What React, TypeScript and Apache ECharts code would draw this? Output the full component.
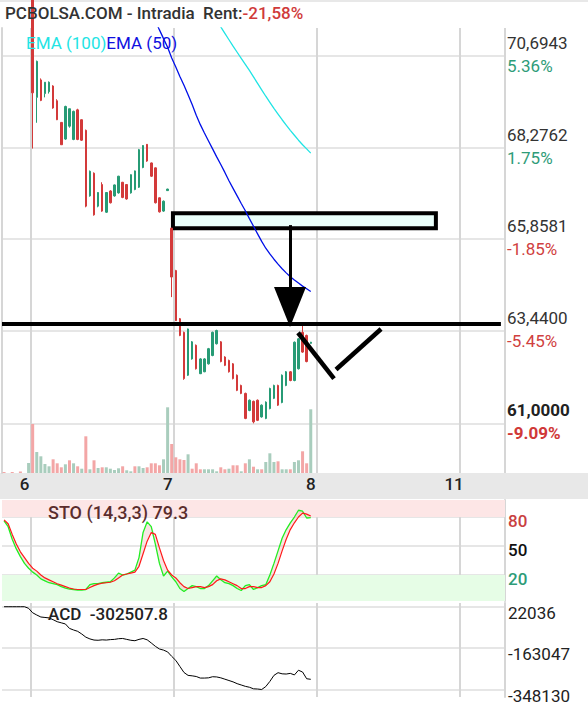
import React, { useEffect, useRef } from "react";
import * as echarts from "echarts";

const FONT = "Roboto";
const N_SLOTS = 123;
const dayTickIndex = [7, 42, 77, 112];
const dayTickLabels = ["6", "7", "8", "11"];

const priceTicks = [61, 63.44, 65.8581, 68.2762, 70.6943];
const priceTickText = ["61,0000", "63,4400", "65,8581", "68,2762", "70,6943"];
const priceTickPct = ["-9.09%", "-5.45%", "-1.85%", "1.75%", "5.36%"];
const stoTicks = [20, 50, 80];
const acdTicks = [22036, -163047, -348130];

// [open, close, low, high]
const candles: (number[] | null)[] = [
  null, null, null, null, null, null, null,
  [72.2, 69.72, 68.25, 72.3], [69.6, 70.55, 68.93, 70.57], [70.06, 69.52, 69.5, 70.1], [69.7, 70.0, 69.6, 70.0],
  [69.75, 70.0, 69.7, 70.02], [69.9, 69.32, 69.3, 69.92], [69.51, 69.01, 69.0, 69.55], [68.94, 68.35, 68.35, 68.95],
  [68.5, 69.36, 68.48, 69.38], [68.84, 69.3, 68.8, 69.3], [68.49, 69.23, 68.47, 69.25], [69.27, 68.49, 68.47, 69.3],
  [69.01, 68.47, 68.45, 69.02], [68.73, 66.73, 66.7, 68.75], [67.0, 67.65, 66.98, 67.67], [67.6, 66.5, 66.48, 67.62],
  [66.73, 67.09, 66.7, 67.1], [67.3, 66.6, 66.58, 67.36], [66.57, 67.09, 66.55, 67.1], [67.13, 66.82, 66.8, 67.15],
  [67.0, 67.29, 66.98, 67.3], [67.08, 67.52, 67.06, 67.53], [67.36, 66.96, 66.94, 67.37], [67.3, 66.92, 66.9, 67.31],
  [67.08, 67.56, 67.06, 67.57], [67.17, 67.66, 67.15, 67.67], [67.23, 68.22, 67.21, 68.24], [67.75, 68.33, 67.73, 68.34],
  [68.36, 67.92, 67.9, 68.37], [67.87, 67.52, 67.5, 67.88], [67.74, 66.82, 66.8, 67.75], [66.95, 66.58, 66.56, 66.96],
  [66.6, 66.86, 66.58, 66.88], [67.14, 67.18, 67.13, 67.19], [66.15, 64.86, 64.33, 66.15],
  [65.03, 63.71, 63.7, 65.05], [63.76, 63.32, 63.3, 63.78], [63.4, 62.18, 62.15, 63.42], [62.27, 63.49, 62.25, 63.5],
  [62.7, 63.15, 62.68, 63.17], [63.06, 62.44, 62.42, 63.08], [62.31, 62.7, 62.3, 62.72], [62.36, 62.7, 62.35, 62.72],
  [62.57, 62.97, 62.55, 62.99], [62.79, 63.4, 62.77, 63.42], [63.1, 63.45, 63.08, 63.47], [63.15, 62.63, 62.61, 63.17],
  [62.75, 62.53, 62.51, 62.77], [62.66, 62.36, 62.34, 62.68], [62.57, 62.18, 62.16, 62.59], [62.27, 61.87, 61.85, 62.29],
  [62.0, 61.79, 61.77, 62.02], [61.79, 61.13, 61.11, 61.81], [61.34, 61.61, 61.32, 61.63], [61.58, 61.04, 61.0, 61.6],
  [61.61, 61.08, 61.06, 61.63], [61.17, 61.48, 61.15, 61.5], [61.13, 61.56, 61.11, 61.58], [61.39, 61.92, 61.37, 61.94],
  [61.66, 62.0, 61.64, 62.02], [62.0, 61.48, 61.46, 62.02], [61.55, 62.27, 61.53, 62.29], [62.0, 62.36, 61.98, 62.38],
  [62.36, 62.13, 62.11, 62.38], [62.13, 63.14, 62.11, 63.16], [62.44, 63.23, 62.42, 63.25], [63.4, 62.88, 62.86, 63.58],
  [63.32, 62.63, 62.61, 63.34], [63.11, 63.14, 63.1, 63.15],
];

const volumes = [
  1000, 0, 1000, 0, 1500, 0, 10000,
  49000, 21000, 16700, 9000, 6700, 13700, 9700, 5700, 8700, 12700, 9700, 6700, 4300, 36700, 3700, 12700, 5000,
  5700, 5700, 4300, 3000, 4700, 6700, 2700, 1700, 6700, 6700, 5000, 5700, 9700, 9700, 7700, 13700, 65700,
  29000, 15700, 13700, 13000, 18700, 4300, 9700, 3700, 3700, 3700, 3700, 1700, 5700, 3700, 4300, 7700, 7700,
  1700, 9700, 13700, 6300, 3700, 3700, 11000, 19700, 11000, 11700, 3700, 3700, 3700, 11000, 12700, 21700, 9700, 63700,
];
const volumeUp = [
  0, 0, 0, 0, 0, 0, 1,
  0, 1, 1, 1, 1, 0, 0, 0, 1, 0, 1, 0, 1, 0, 1, 0, 1, 0, 1, 1, 1, 1, 0, 1, 1, 0, 1, 1, 0, 0, 0, 0, 1, 1,
  0, 0, 0, 0, 1, 0, 0, 0, 1, 1, 1, 1, 0, 0, 1, 0, 0, 1, 0, 1, 0, 1, 0, 1, 1, 1, 0, 1, 1, 0, 1, 1, 0, 0, 1,
];

const ema50: (number | null)[] = [
  ...Array(37).fill(null),
  71.62, 71.38, 71.15, 70.92, 70.64, 70.4, 70.15, 69.92, 69.67, 69.41, 69.13, 68.88, 68.66, 68.45, 68.24, 68.03,
  67.83, 67.62, 67.4, 67.2, 67.0, 66.8, 66.61, 66.4, 66.2, 66.0, 65.8, 65.62, 65.47, 65.33, 65.2, 65.08, 64.97,
  64.87, 64.78, 64.7, 64.62, 64.55, 64.48,
];
const ema100: (number | null)[] = [
  ...Array(52).fill(null),
  71.62, 71.46, 71.29, 71.12, 70.95, 70.79, 70.63, 70.47, 70.31, 70.14, 69.97, 69.8, 69.63, 69.47, 69.31, 69.16,
  69.01, 68.87, 68.73, 68.6, 68.47, 68.35, 68.24, 68.13,
];

const stoK = [
  76, 70, 57, 47, 39, 32, 27, 23, 20, 16, 14, 12, 11, 10, 8, 6.5, 5.5, 5, 4.5, 4.5, 5, 10, 11, 11, 12, 12.5, 13,
  17, 22, 20, 21, 23, 25, 38, 64, 75, 70, 52, 32, 19, 24, 18, 13, 6, 3, 6, 9, 8, 6, 6, 9, 14, 19, 15, 12, 11, 9,
  6, 4, 9, 10, 5, 7, 9, 10, 20, 32, 45, 58, 67, 74, 80, 87, 86, 79, 79.3,
];
const stoD = [
  77, 73, 62, 52, 44, 38, 32, 27, 24, 20, 17, 15, 13, 11, 9.5, 8, 6.5, 5.5, 5, 5, 5, 7, 9, 10.5, 11.5, 12, 12.5,
  14, 17, 20, 21, 22, 23, 29, 42, 55, 64, 62, 48, 35, 25, 20, 17, 12, 8, 6, 7, 8, 8, 7, 8, 10, 14, 16, 15, 13,
  11, 9, 6, 6, 8, 8, 7, 7, 9, 13, 21, 32, 45, 57, 67, 74, 80, 84, 83, 81,
];

const acd = [
  22036, 22036, 22036, 22036, 22036, 22036, 15000, -5000, -15000, -24000, -26000, -28000, -36000, -45000,
  -50000, -55000, -75000, -82000, -88000, -100000, -114000, -122000, -127000, -128000, -126000, -127000,
  -125000, -124000, -121000, -120000, -124000, -128000, -130000, -124000, -120000, -126000, -140000, -155000,
  -167000, -172000, -180000, -200000, -218000, -245000, -272000, -285000, -287000, -290000, -297000, -297000,
  -296000, -291000, -292000, -296000, -302000, -308000, -314000, -322000, -328000, -334000, -338000, -345000,
  -346000, -348130, -335000, -312000, -285000, -273000, -278000, -279000, -276000, -283000, -262000, -270000,
  -300000, -302507.8,
];

// hand-drawn annotations, in (slot, price) units
const boxCorners = [[41.8, 66.54], [106.1, 66.15]];
const arrowEnds = [[70.43, 66.23], [70.43, 64.07]];
const levelEnds = [[0, 63.625], [122.0, 63.625]];
const checkA = [[72.39, 63.39], [81.19, 62.18]];
const checkB = [[81.68, 62.42], [92.69, 63.49]];

const UP = "#279b75";
const DOWN = "#d33a3a";
const VGRID = "#d6d6d6";
const HGRID = "#e6e6e6";

function buildOption(): any {
  const cats = Array.from({ length: N_SLOTS }, (_, i) => {
    const k = dayTickIndex.indexOf(i);
    return k >= 0 ? dayTickLabels[k] : "";
  });
  const showAt = (i: number) => dayTickIndex.includes(i);
  const grids = [
    { left: 2, right: 83, top: 28, height: 445 },
    { left: 2, right: 83, top: 500, height: 101 },
    { left: 2, right: 83, top: 603, height: 101 },
  ];
  const catAxis = (gi: number, labels: boolean) => ({
    type: "category",
    gridIndex: gi,
    data: cats,
    boundaryGap: true,
    axisLine: { show: false },
    axisTick: { show: false },
    axisLabel: labels
      ? {
          show: true,
          interval: (i: number) => showAt(i),
          margin: 2,
          padding: [0, 16, 0, 0],
          fontFamily: FONT,
          fontSize: 17,
          fontWeight: 500,
          color: "#222",
        }
      : { show: false },
    splitLine: { show: true, interval: (i: number) => showAt(i), lineStyle: { color: VGRID, width: 2 } },
  });
  const txt = (size: number, color: string, weight: any = 400, lh?: number) => ({
    fontFamily: FONT, fontSize: size, color, fontWeight: weight, lineHeight: lh,
  });

  const volData = volumes.map((v, i) => ({
    value: v,
    itemStyle: { color: volumeUp[i] ? "#a9cdbd" : "#f3a6a6" },
  }));
  const candleData = candles.map((c) => (c ? c : ["-", "-", "-", "-"]));
  const fillBase = stoK.map((k, i) => Math.min(k, stoD[i]));
  const fillDiff = stoK.map((k, i) => Math.abs(k - stoD[i]));
  const seg = (a: number[][], w: number) => [
    { coord: a[0], symbol: "none", lineStyle: { width: w, color: "#000", type: "solid" } },
    { coord: a[1], symbol: "none" },
  ];

  return {
    animation: false,
    backgroundColor: "#fff",
    grid: grids,
    xAxis: [
      catAxis(0, true),
      catAxis(1, false),
      catAxis(2, false),
      { type: "value", gridIndex: 0, min: 0, max: N_SLOTS, show: false },
    ],
    yAxis: [
      {
        type: "value", gridIndex: 0, position: "right", min: 59.69, max: 71.43,
        axisLine: { show: true, lineStyle: { color: VGRID, width: 2 } },
        axisTick: { show: false, customValues: priceTicks },
        axisLabel: {
          customValues: priceTicks,
          margin: 2,
          padding: [0, 0, 4, 0],
          formatter: (v: number) => {
            const k = priceTicks.findIndex((t) => Math.abs(t - v) < 1e-6);
            if (k < 0) return "";
            const bold = k === 0;
            const pos = !priceTickPct[k].startsWith("-");
            const pk = bold ? "pb" : pos ? "pg" : "pr";
            return `{${bold ? "vb" : "v"}|${priceTickText[k]}}\n{${pk}|${priceTickPct[k]}}`;
          },
          rich: {
            v: txt(17, "#333", 400, 24),
            vb: txt(17, "#222", 700, 24),
            pg: txt(17, "#2e9c78", 400, 22),
            pr: txt(17, "#d04040", 400, 22),
            pb: txt(17, "#d03838", 700, 22),
          },
        },
        splitLine: { show: true, lineStyle: { color: HGRID, width: 2 } },
      },
      { type: "value", gridIndex: 0, min: 0, max: 445000, show: false },
      {
        type: "value", gridIndex: 1, position: "right", min: -6.9, max: 97.6,
        axisLine: { show: true, lineStyle: { color: VGRID, width: 2 } },
        axisTick: { show: false, customValues: stoTicks },
        axisLabel: {
          customValues: stoTicks,
          margin: 3,
          padding: [8, 0, 0, 0],
          formatter: (v: number) => (v === 80 ? "{r|80}" : v === 50 ? "{k|50}" : v === 20 ? "{g|20}" : ""),
          rich: {
            r: txt(17, "#c94040", 500),
            k: txt(17, "#111", 500),
            g: txt(17, "#2e9c78", 500),
          },
        },
        splitLine: { show: true, lineStyle: { color: HGRID, width: 2 } },
      },
      {
        type: "value", gridIndex: 2, position: "right", min: -381402, max: 38672,
        axisLine: { show: true, lineStyle: { color: VGRID, width: 2 } },
        axisTick: { show: false, customValues: acdTicks },
        axisLabel: {
          customValues: acdTicks,
          margin: 3,
          padding: [12, 0, 0, 0],
          formatter: (v: number) => `{a|${Math.round(v)}}`,
          rich: { a: txt(17, "#222", 400) },
        },
        splitLine: { show: true, lineStyle: { color: HGRID, width: 2 } },
      },
    ],
    series: [
      {
        type: "line", xAxisIndex: 3, yAxisIndex: 0, data: [], clip: false, z: 1, silent: true,
        markArea: {
          silent: true,
          itemStyle: { color: "#eafffb", borderColor: "#000", borderWidth: 4 },
          data: [[{ coord: boxCorners[0] }, { coord: boxCorners[1] }]],
        },
      },
      {
        type: "bar", xAxisIndex: 0, yAxisIndex: 1, data: volData, barWidth: 3, z: 2, silent: true,
      },
      {
        type: "candlestick", xAxisIndex: 0, yAxisIndex: 0, data: candleData, barWidth: 2, clip: false, z: 3,
        silent: true,
        itemStyle: { color: UP, color0: DOWN, borderColor: UP, borderColor0: DOWN, borderWidth: 1 },
      },
      {
        type: "line", xAxisIndex: 0, yAxisIndex: 0, data: ema100, symbol: "none", z: 4, silent: true,
        lineStyle: { color: "#20e4e4", width: 1.3 },
      },
      {
        type: "line", xAxisIndex: 0, yAxisIndex: 0, data: ema50, symbol: "none", z: 4, silent: true,
        lineStyle: { color: "#0010e8", width: 1.3 },
      },
      {
        type: "line", xAxisIndex: 3, yAxisIndex: 0, data: [], clip: false, z: 6, silent: true,
        markLine: {
          silent: true,
          label: { show: false },
          symbol: ["none", "none"],
          lineStyle: { color: "#000", width: 4, type: "solid" },
          data: [
            seg(levelEnds, 4),
            seg(checkA, 4.5),
            seg(checkB, 4.5),
            [
              { coord: arrowEnds[0], symbol: "none", lineStyle: { width: 3, color: "#000", type: "solid" } },
              { coord: arrowEnds[1], symbol: "triangle", symbolSize: [32, 40] },
            ],
          ],
        },
      },
      {
        type: "line", xAxisIndex: 1, yAxisIndex: 2, data: fillBase, stack: "sto", symbol: "none", silent: true,
        lineStyle: { opacity: 0 }, z: 2,
        markArea: {
          silent: true,
          data: [
            [{ yAxis: 80, itemStyle: { color: "#fde6e6" } }, { yAxis: 97.6 }],
            [{ yAxis: -6.9, itemStyle: { color: "#e6fde6" } }, { yAxis: 20 }],
          ],
        },
      },
      {
        type: "line", xAxisIndex: 1, yAxisIndex: 2, data: fillDiff, stack: "sto", symbol: "none", silent: true,
        lineStyle: { opacity: 0 }, areaStyle: { color: "rgba(235,170,170,0.45)" }, z: 2,
      },
      {
        type: "line", xAxisIndex: 1, yAxisIndex: 2, data: stoK, symbol: "none", silent: true, z: 3,
        lineStyle: { color: "#22ee22", width: 1.3 },
      },
      {
        type: "line", xAxisIndex: 1, yAxisIndex: 2, data: stoD, symbol: "none", silent: true, z: 3,
        lineStyle: { color: "#ff1a1a", width: 1.2 },
      },
      {
        type: "line", xAxisIndex: 2, yAxisIndex: 3, data: acd, symbol: "none", silent: true, z: 3,
        lineStyle: { color: "#000", width: 1 },
      },
    ],
    graphic: [
      { type: "rect", z: -1, silent: true, shape: { x: 0, y: 0, width: 588, height: 2 }, style: { fill: "#e8e8e8" } },
      { type: "rect", z: -1, silent: true, shape: { x: 0, y: 473, width: 588, height: 26 }, style: { fill: "#e8e8e8" } },
      {
        type: "text", x: 5, y: 13, z: 20, silent: true,
        style: {
          text: "{a|PCBOLSA.COM - Intradia  Rent:}{b|-21,58%}",
          verticalAlign: "middle",
          rich: {
            a: { fontFamily: FONT, fontSize: 17, fontWeight: 500, fill: "#333" },
            b: { fontFamily: FONT, fontSize: 17, fontWeight: 500, fill: "#d03a3a" },
          },
        },
      },
      {
        type: "text", x: 26, y: 43, z: 20, silent: true,
        style: {
          text: "{c|EMA (100)}{b|EMA (50)}",
          verticalAlign: "middle",
          rich: {
            c: { fontFamily: FONT, fontSize: 17, fill: "#22e4e4" },
            b: { fontFamily: FONT, fontSize: 17, fill: "#1010e0" },
          },
        },
      },
      {
        type: "text", x: 48, y: 512, z: 20, silent: true,
        style: { text: "STO (14,3,3) 79.3", verticalAlign: "middle", fontFamily: FONT, fontSize: 18, fontWeight: 500, fill: "#5a2d2d" },
      },
      {
        type: "text", x: 48, y: 614, z: 20, silent: true,
        style: { text: "ACD  -302507.8", verticalAlign: "middle", fontFamily: FONT, fontSize: 17, fontWeight: 500, fill: "#222" },
      },
    ],
  };
}

export default function App() {
  const ref = useRef<HTMLDivElement>(null);
  useEffect(() => {
    document.body.style.margin = "0";
    const chart = echarts.init(ref.current!, null, { renderer: "svg" });
    chart.setOption(buildOption());
    return () => chart.dispose();
  }, []);
  return <div ref={ref} style={{ width: 588, height: 704 }} />;
}
